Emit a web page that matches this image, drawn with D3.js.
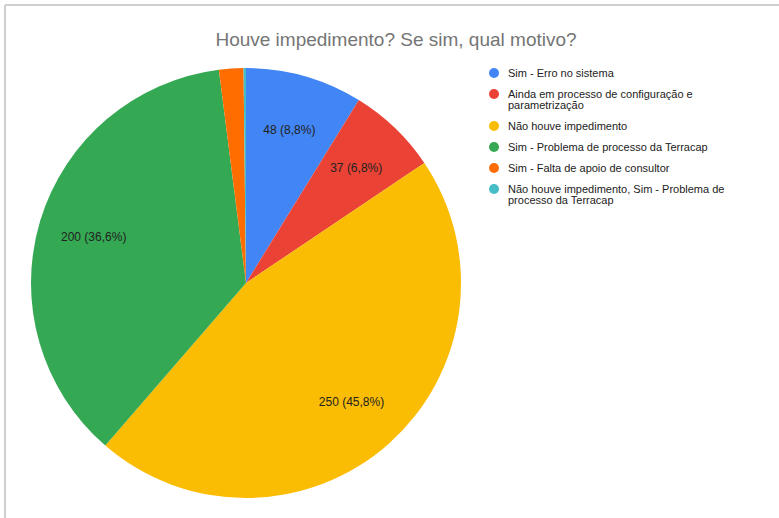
<!DOCTYPE html>
<html>
<head>
<meta charset="utf-8">
<script src="https://cdn.jsdelivr.net/npm/d3@7"></script>
<style>
  html, body { margin: 0; padding: 0; background: #fff; }
  svg text { font-family: Arial, "Liberation Sans", sans-serif; }
</style>
</head>
<body>
<div id="chart"></div>
<script>
// data
var labels = [
	'Sim - Erro no sistema',
	'Ainda em processo de configuração e parametrização',
	'Não houve impedimento',
	'Sim - Problema de processo da Terracap',
	'Sim - Falta de apoio de consultor',
	'Não houve impedimento, Sim - Problema de processo da Terracap'
];
var values = [48, 37, 250, 200, 10, 1];
var colors = ['#4285f4', '#ea4335', '#fbbc04', '#34a853', '#ff6d01', '#46bdc6'];
var title = 'Houve impedimento? Se sim, qual motivo?';

var width = 779, height = 518;

var svg = d3.select('#chart')
	.append('svg')
		.attr('width', width)
		.attr('height', height);

// frame (top + left edge of the screenshot card)
svg.append('line')
	.attr('x1', 5).attr('y1', 5).attr('x2', width).attr('y2', 5)
	.style('stroke', '#cfcfcf').style('stroke-width', 2);
svg.append('line')
	.attr('x1', 5).attr('y1', 5).attr('x2', 5).attr('y2', height)
	.style('stroke', '#cfcfcf').style('stroke-width', 2);

svg.append('text')
	.text(title)
	.attr('x', 396)
	.attr('y', 46)
	.attr('text-anchor', 'middle')
	.style('font-size', '19px')
	.style('fill', '#757575');

var cx = 246, cy = 283, radius = 215;
var total = d3.sum(values);

var pie = d3.pie().sort(null).value(d => d);
var arcs = pie(values);

var arc = d3.arc().innerRadius(0).outerRadius(radius);
var labelArc = d3.arc().innerRadius(radius * 0.74).outerRadius(radius * 0.74);

var pieG = svg.append('g')
	.attr('transform', `translate(${cx},${cy})`);

pieG.selectAll('path')
	.data(arcs)
	.enter()
	.append('path')
		.attr('d', arc)
		.style('fill', (d, i) => colors[i]);

var fmt = d3.format('.1f');

// only slices large enough get a label
pieG.selectAll('text.slice-label')
	.data(arcs.filter(d => d.value / total > 0.05))
	.enter()
	.append('text')
		.attr('class', 'slice-label')
		.attr('transform', d => `translate(${labelArc.centroid(d)})`)
		.attr('text-anchor', 'middle')
		.attr('dy', '0.35em')
		.style('font-size', '12px')
		.style('fill', '#222')
		.text(d => `${d.value} (${fmt(d.value / total * 100).replace('.', ',')}%)`);

// legend
var legX = 494, legY = 73, rowGap = 21, lineH = 11, wrapW = 235;
var legend = svg.append('g').attr('class', 'legend');
var yPos = legY;

labels.forEach(function(lbl, i){
	var row = legend.append('g').attr('transform', `translate(${legX},${yPos})`);
	row.append('circle')
		.attr('r', 5)
		.style('fill', colors[i]);
	var txt = row.append('text')
		.attr('x', 14)
		.attr('y', 0)
		.style('font-size', '11px')
		.style('fill', '#222');

	// simple word wrap
	var words = lbl.split(' ');
	var line = [];
	var lineNo = 0;
	var tspan = txt.append('tspan').attr('x', 14).attr('dy', '0.35em');
	words.forEach(function(w){
		line.push(w);
		tspan.text(line.join(' '));
		if (tspan.node().getComputedTextLength() > wrapW && line.length > 1){
			line.pop();
			tspan.text(line.join(' '));
			line = [w];
			lineNo++;
			tspan = txt.append('tspan').attr('x', 14).attr('dy', lineH).text(w);
		}
	});
	yPos += rowGap + lineNo * lineH;
});
</script>
</body>
</html>
